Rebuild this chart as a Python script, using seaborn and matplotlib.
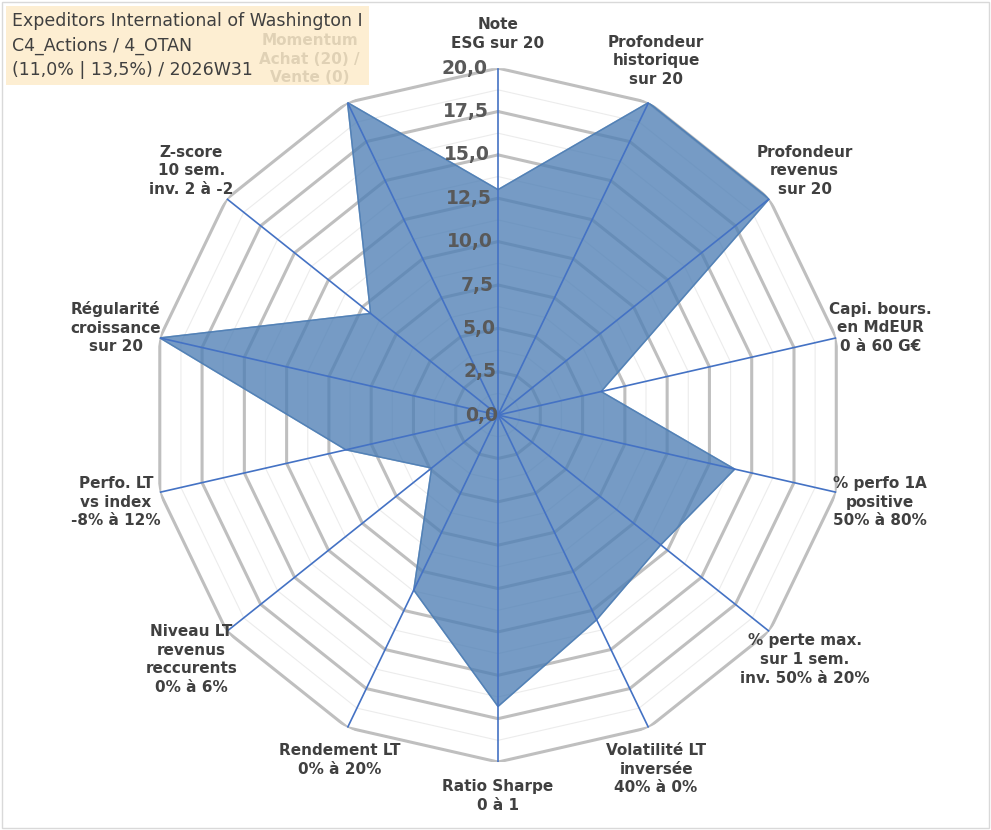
import numpy as np
import matplotlib
matplotlib.use("Agg")
import matplotlib.pyplot as plt
import seaborn as sns

# Critères (sens horaire depuis le haut)
labels = [
    "Note\nESG sur 20",
    "Profondeur\nhistorique\nsur 20",
    "Profondeur\nrevenus\nsur 20",
    "Capi. bours.\nen MdEUR\n0 à 60 G€",
    "% perfo 1A\npositive\n50% à 80%",
    "% perte max.\nsur 1 sem.\ninv. 50% à 20%",
    "Volatilité LT\ninversée\n40% à 0%",
    "Ratio Sharpe\n0 à 1",
    "Rendement LT\n0% à 20%",
    "Niveau LT\nrevenus\nreccurents\n0% à 6%",
    "Perfo. LT\nvs index\n-8% à 12%",
    "Régularité\ncroissance\nsur 20",
    "Z-score\n10 sem.\ninv. 2 à -2",
    "Momentum\nAchat (20) /\nVente (0)",
]
scores = [13.0, 20.0, 20.0, 6.1, 14.0, 12.0, 13.1, 16.8, 11.2, 4.9, 9.0, 20.0, 9.4, 20.0]
ticks = [0, 2.5, 5, 7.5, 10, 12.5, 15, 17.5, 20]
title_lines = ["Expeditors International of Washington I",
               "C4_Actions / 4_OTAN",
               "(11,0% | 13,5%) / 2026W31"]

sns.set_style("white")
plt.rcParams['font.family'] = ['DejaVu Sans']

n = len(labels)
ang = np.linspace(0, 2 * np.pi, n, endpoint=False)
ang_c = np.append(ang, ang[0])

fig = plt.figure(figsize=(9.91, 8.30), dpi=100)
ax = fig.add_axes([0.1524, 0.0819, 0.7003, 0.836], projection='polar')
ax.set_theta_zero_location('N')
ax.set_theta_direction(-1)
ax.set_ylim(0, 20)
ax.grid(False)
ax.spines['polar'].set_visible(False)
ax.set_xticks([])
ax.set_yticks([])

# grille polygonale
for r in np.arange(1.25, 20.01, 1.25):
    major = abs(r / 2.5 - round(r / 2.5)) < 1e-6
    ax.plot(ang_c, [r] * (n + 1), color='#bfbfbf' if major else '#ececec',
            lw=2.2 if major else 0.8, zorder=1)

vals = np.append(scores, scores[0])
ax.fill(ang_c, vals, color='#4f7fb5', alpha=0.78, zorder=2)
ax.plot(ang_c, vals, color='#4f7fb5', lw=1, alpha=0.8, zorder=2)

for a in ang:
    ax.plot([a, a], [0, 20], color='#4472c4', lw=1.2, zorder=3)

for t in ticks:
    ax.text(-0.03, t, f"{t:.1f}".replace('.', ','), ha='right', va='center',
            fontsize=13.5, fontweight='bold', color='#595959', zorder=4)

for i, (a, lab) in enumerate(zip(ang, labels)):
    c = np.cos(a)
    va = 'bottom' if c > 0.8 else ('top' if c < -0.8 else 'center')
    r = 21.0 if abs(c) > 0.8 else 22.6
    if i == len(labels) - 1:
        a, r = a - 0.07, 21.9
    ax.annotate(lab, xy=(a, 20), xytext=(a, r), ha='center', va=va,
                fontsize=11, fontweight='bold', color='#404040',
                linespacing=1.3, zorder=4, annotation_clip=False)

fig.text(0.012, 0.985, "\n".join(title_lines), ha='left', va='top',
         fontsize=12.5, color='#404040', linespacing=1.45, zorder=10,
         bbox=dict(boxstyle='square,pad=0.35', facecolor='#fdeccb',
                   edgecolor='none', alpha=0.85))

fig.patches.append(plt.Rectangle((0.002, 0.002), 0.996, 0.996, transform=fig.transFigure,
                                 fill=False, edgecolor='#d9d9d9', lw=1))
fig.savefig("out.png", dpi=100)
